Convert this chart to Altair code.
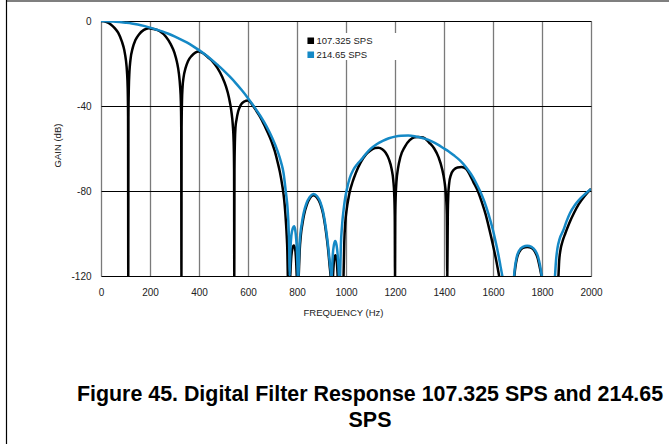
import altair as alt
import pandas as pd

# Series names and colours
SERIES = ["107.325 SPS", "214.65 SPS"]
COLORS = ["#000000", "#1589c6"]

# Axis ticks
X_TICKS = [0, 200, 400, 600, 800, 1000, 1200, 1400, 1600, 1800, 2000]
Y_TICKS = [-120, -80, -40, 0]

TITLE_LINES = ["Figure 45. Digital Filter Response 107.325 SPS and 214.65", "SPS"]

# Gain (dB) vs frequency (Hz), 107.325 SPS
GAIN_107 = [
    (0, 0), (20, -0.4), (40, -1.6), (55, -3.2), (70, -5.5), (85, -9.6), (95, -13.7),
    (102, -18.7), (106, -23.8), (109, -31.8), (110.5, -45), (111.3, -120),
    (112, -45), (113.5, -32), (116, -24), (120, -18.5), (130, -12.4), (140, -9.1),
    (155, -6.3), (175, -4.2), (195, -3.4), (215, -3.8), (240, -4.8), (265, -7.4),
    (285, -11), (300, -15), (310, -19.3), (318, -24.8), (323, -31), (326, -38),
    (327.5, -50), (328.3, -120),
    (329, -50), (330.5, -38), (333, -31), (337, -26.5), (345, -22.2), (355, -18.9),
    (370, -16.4), (385, -14.9), (398, -14.4), (410, -14.8), (425, -15.9), (440, -17.4),
    (455, -19.0), (475, -22.1), (495, -26.4), (510, -30.8), (522, -35.9), (532, -42.4),
    (538, -49), (541.5, -57), (543.2, -70), (544, -120),
    (544.8, -70), (546.5, -57), (549, -50), (553, -46.5), (560, -42.5), (570, -39.6),
    (585, -37.9), (600, -37.4), (615, -39), (630, -41.6), (650, -45.2), (670, -49.9),
    (690, -55), (700, -58), (710, -61.5), (720, -66), (730, -71), (740, -77.5),
    (745, -81.5), (750, -87), (755, -95), (758, -101), (760.5, -108), (762.5, -120),
    (766, -135),
    (772.5, -120), (776, -112), (781, -107.2), (787, -105.6), (792, -107), (796, -112),
    (799, -120),
    (803, -130),
    (807, -120), (811, -108), (816, -100.5), (822, -95.5), (829, -91), (840, -86.5),
    (853, -83.3), (867, -82), (881, -83), (895, -86), (906, -90.5), (915, -96.5),
    (922, -102.5), (928, -108.5), (933, -115), (937, -120),
    (942, -135),
    (947, -120), (950.5, -113.5), (954, -110.8), (957, -110.2), (960, -111), (963, -114),
    (966, -120),
    (978, -140),
    (990, -120), (993, -104), (997, -95), (1003, -88.5), (1010, -83.5), (1016, -80),
    (1026, -76), (1040, -71.5), (1060, -66.5), (1080, -63), (1100, -60.9), (1118, -59.8),
    (1132, -59.6), (1148, -60.3), (1162, -62), (1175, -65), (1186, -69.5), (1193, -75),
    (1197, -82), (1199, -92), (1200, -120),
    (1201, -92), (1203, -82), (1206, -75.5), (1212, -69.6), (1222, -64), (1240, -59.2),
    (1260, -56.1), (1280, -54.7), (1295, -54.6), (1315, -54.8), (1340, -57.3), (1360, -60),
    (1378, -64.2), (1392, -69.5), (1402, -75.5), (1408, -82), (1411.5, -91), (1413.5, -120),
    (1415.5, -91), (1417.5, -82), (1421, -76.5), (1428, -72.5), (1440, -70), (1455, -68.9),
    (1472, -68.7), (1490, -69.6), (1505, -72.3), (1520, -75.8), (1538, -80), (1555, -85.5),
    (1570, -91), (1585, -98), (1600, -105.5), (1612, -112), (1625, -120),
    (1655, -140),
    (1687, -120), (1691, -116), (1698, -111.5), (1708, -108.5), (1722, -106.8), (1740, -106.3),
    (1757, -106.8), (1771, -108.5), (1782, -111.5), (1791, -116), (1798, -120),
    (1832, -140),
    (1867, -120), (1870, -113), (1875, -108), (1883, -104), (1895, -100), (1910, -95.5),
    (1930, -90.5), (1950, -86.2), (1975, -82.2), (2000, -79),
]

# Gain (dB) vs frequency (Hz), 214.65 SPS
GAIN_214 = [
    (0, 0), (25, -0.1), (50, -0.25), (75, -0.5), (100, -0.8), (125, -1.15), (150, -1.65),
    (175, -2.3), (200, -3.1), (225, -4.0), (250, -4.9), (275, -6.0), (300, -7.2),
    (325, -8.6), (350, -10.1), (375, -11.8), (400, -13.7), (425, -15.8), (450, -18.1),
    (475, -20.6), (500, -23.2), (525, -26.1), (550, -29.2), (575, -32.6), (600, -36.3),
    (625, -40.3), (650, -44.6), (675, -49.5), (700, -55.3), (720, -61), (735, -66.5),
    (745, -71.5), (754, -80), (762, -89), (766, -98), (768.5, -108), (770, -120),
    (773, -108), (777, -101), (783, -97.5), (788, -96.6), (793, -98.5), (797, -103),
    (800.5, -110), (803, -120),
    (804.5, -126),
    (806, -120), (809, -108), (814, -100), (820, -95), (827, -90.5), (838, -86),
    (852, -82.8), (867, -81.4), (882, -82.5), (896, -85.5), (907, -90), (916, -96),
    (923, -102), (929, -108), (935, -115), (939, -120),
    (940.5, -126),
    (942, -120), (946, -110), (950.5, -105.5), (956, -103.5), (961.5, -105.5), (966, -110),
    (971, -120),
    (973.5, -128),
    (976, -120), (979, -106), (984, -96), (990, -89), (997, -83), (1003, -79.5),
    (1015, -74), (1030, -70), (1045, -67.5), (1064, -65), (1085, -62), (1100, -60.2),
    (1125, -58), (1150, -56.4), (1175, -55.2), (1200, -54.4), (1225, -54), (1254, -53.9),
    (1280, -54.2), (1300, -54.7), (1325, -55.5), (1350, -56.7), (1375, -58.2), (1400, -60),
    (1418, -61.3), (1440, -63.2), (1465, -65.6), (1490, -68.8), (1510, -72), (1530, -76),
    (1547, -80), (1565, -85), (1582, -91), (1600, -98.5), (1612, -104.5), (1622, -110),
    (1630, -115), (1638, -120),
    (1662, -140),
    (1686, -120), (1690, -115.5), (1697, -111), (1707, -108), (1722, -106.3), (1740, -105.8),
    (1757, -106.3), (1772, -108), (1784, -111), (1792, -115), (1799, -120),
    (1826, -140),
    (1853, -120), (1857, -113), (1863, -107), (1872, -102.5), (1887, -98.5), (1900, -94.3),
    (1914, -90.5), (1935, -86.5), (1955, -83.7), (1978, -81.2), (2000, -79),
]

FONT = "Liberation Sans"

rows = []
for name, pts in zip(SERIES, [GAIN_107, GAIN_214]):
    for f, g in pts:
        rows.append({"freq": f, "gain": g, "series": name})
df = pd.DataFrame(rows)
one = pd.DataFrame({"k": [0]})

x_enc = alt.X(
    "freq:Q",
    scale=alt.Scale(domain=[0, 2000], nice=False, zero=False),
    axis=alt.Axis(
        values=X_TICKS, format="d", title="FREQUENCY (Hz)", grid=True, gridColor="#7a7a7a",
        gridWidth=1.3, ticks=False, domain=False, labelPadding=11, labelFlush=False,
        labelFont=FONT, labelFontSize=10, labelColor="#222222",
        titleFont=FONT, titleFontSize=9.5, titleFontWeight="normal", titleColor="#222222",
        titleX=242, titleY=36, titleBaseline="middle",
    ),
)
y_enc = alt.Y(
    "gain:Q",
    scale=alt.Scale(domain=[-120, 0], nice=False, zero=False),
    axis=alt.Axis(
        values=Y_TICKS, title="GAIN (dB)", grid=True, gridColor="#000000", gridWidth=1,
        ticks=False, domain=False, labelPadding=10, labelFlush=False,
        labelExpr="'' + datum.value",
        labelFont=FONT, labelFontSize=10, labelColor="#222222",
        titleFont=FONT, titleFontSize=9.5, titleFontWeight="normal", titleColor="#222222",
        titleAngle=270, titleX=-43.5, titleY=124, titleAlign="center", titleBaseline="middle",
    ),
)
# square legend swatches: a small square outlined with a wide stroke reads as solid
color_enc = alt.Color(
    "series:N",
    scale=alt.Scale(domain=SERIES, range=COLORS),
    legend=alt.Legend(
        title=None, orient="none", legendX=205, legendY=15, padding=0,
        symbolType="square", symbolSize=9, symbolStrokeWidth=3.6,
        labelFont=FONT, labelFontSize=9.5, labelColor="#222222", labelOffset=1,
        rowPadding=3, clipHeight=9.5,
    ),
)

base = alt.Chart(df).encode(x=x_enc, y=y_enc, color=color_enc)
line_107 = base.transform_filter(alt.datum.series == SERIES[0]).mark_line(
    strokeWidth=2.5, interpolate="monotone", clip=True)
line_214 = base.transform_filter(alt.datum.series == SERIES[1]).mark_line(
    strokeWidth=2.5, interpolate="monotone", clip=True)

# white panel behind the legend entries
legend_box = alt.Chart(one).mark_rect(color="white").encode(
    x=alt.value(202), x2=alt.value(298), y=alt.value(12), y2=alt.value(39))

# page frame lines
frame_left = alt.Chart(one).mark_rule(color="black", strokeWidth=1.2).encode(
    x=alt.value(-94.5), y=alt.value(-21), y2=alt.value(423))
frame_top = alt.Chart(one).mark_rule(color="black", strokeWidth=1.2).encode(
    x=alt.value(-94.5), x2=alt.value(568), y=alt.value(-20))

caption = alt.Chart(one).mark_text(
    text=TITLE_LINES, font=FONT, fontSize=21.4, fontWeight="bold", align="center",
    baseline="alphabetic", lineHeight=26, color="black",
).encode(x=alt.value(269), y=alt.value(379.5))

chart = alt.layer(
    line_107, line_214, legend_box, frame_left, frame_top, caption
).properties(
    width=490, height=255,
    padding={"left": 101, "top": 21, "right": 78, "bottom": 168},
    autosize=alt.AutoSizeParams(type="none"),
).configure_view(
    stroke="black", strokeWidth=2
).configure(background="white")

chart.save("out.html", embed_options={"renderer": "svg", "actions": False})
